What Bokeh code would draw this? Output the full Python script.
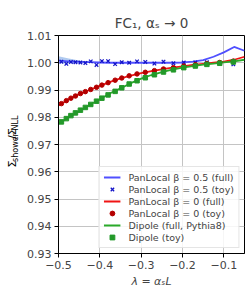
import math
from bokeh.plotting import figure
from bokeh.layouts import row
from bokeh.models import Legend, LegendItem, FixedTicker, NumeralTickFormatter, Range1d
from bokeh.core.properties import value
from bokeh.embed import file_html
from bokeh.resources import INLINE

# ---- data ----
lam_full = [-0.5, -0.475, -0.45, -0.425, -0.4, -0.375, -0.35, -0.325, -0.3, -0.275,
            -0.25, -0.225, -0.2, -0.175, -0.15, -0.125, -0.1, -0.075, -0.05]
pl05_full = [1.0008, 1.0005, 1.0003, 1.0002, 1.0001, 1.0000, 1.0000, 1.0000, 1.0000, 1.0000,
             1.0000, 1.0000, 1.0001, 1.0004, 1.0010, 1.0022, 1.0038, 1.0058, 1.0044]
pl05_lo = [0.9997, 0.9998, 0.9999, 1.0000, 1.0000, 0.9999, 0.9999, 0.9999, 0.9999, 0.9999,
           0.9999, 0.9999, 1.0000, 1.0003, 1.0009, 1.0021, 1.0037, 1.0057, 1.0043]
pl05_hi = [1.0024, 1.0016, 1.0008, 1.0004, 1.0002, 1.0001, 1.0001, 1.0001, 1.0001, 1.0001,
           1.0001, 1.0001, 1.0002, 1.0005, 1.0011, 1.0023, 1.0039, 1.0059, 1.0045]
pl0_full = [0.9843, 0.9866, 0.9885, 0.9900, 0.9915, 0.9930, 0.9943, 0.9953, 0.9962, 0.9969,
            0.9976, 0.9982, 0.9987, 0.9992, 0.9996, 1.0000, 1.0004, 1.0011, 1.0022]
dip_full = [0.9776, 0.9800, 0.9822, 0.9845, 0.9866, 0.9888, 0.9906, 0.9925, 0.9942, 0.9955,
            0.9966, 0.9975, 0.9982, 0.9988, 0.9993, 0.9997, 1.0001, 1.0005, 1.0011]

lam_toy = [-0.493, -0.481, -0.470, -0.459, -0.447, -0.435, -0.422, -0.408, -0.395, -0.380,
           -0.363, -0.347, -0.329, -0.310, -0.290, -0.268, -0.246, -0.222, -0.197, -0.169,
           -0.141, -0.110, -0.077]
pl05_toy = [1.0004, 0.9996, 1.0003, 1.0002, 1.0001, 0.9999, 1.0005, 0.9992, 1.0006, 1.0006,
            0.9995, 1.0002, 1.0000, 1.0005, 1.0003, 0.9997, 1.0004, 0.9998, 1.0001, 1.0001,
            1.0002, 0.9999, 0.9994]
pl0_toy = [0.9850, 0.9861, 0.9870, 0.9878, 0.9887, 0.9894, 0.9902, 0.9910, 0.9918, 0.9927,
           0.9936, 0.9944, 0.9952, 0.9959, 0.9965, 0.9971, 0.9977, 0.9982, 0.9988, 0.9993,
           0.9997, 1.0001, 1.0006]
dip_toy = [0.9783, 0.9795, 0.9806, 0.9816, 0.9826, 0.9836, 0.9847, 0.9859, 0.9870, 0.9882,
           0.9895, 0.9908, 0.9922, 0.9934, 0.9945, 0.9956, 0.9966, 0.9974, 0.9982, 0.9988,
           0.9994, 0.9998, 1.0003]

x_ticks = [-0.5, -0.4, -0.3, -0.2, -0.1]
x_tick_labels = ["\u22120.5", "\u22120.4", "\u22120.3", "\u22120.2", "\u22120.1"]
y_ticks = [0.93, 0.94, 0.95, 0.96, 0.97, 0.98, 0.99, 1.00, 1.01]

labels = ["PanLocal \u03b2 = 0.5 (full)", "PanLocal \u03b2 = 0.5 (toy)",
          "PanLocal \u03b2 = 0 (full)", "PanLocal \u03b2 = 0 (toy)",
          "Dipole (full, Pythia8)", "Dipole (toy)"]

# y-axis label pieces: (text, font size, subscript?)
ylab_parts = [("\u03a3", "11px", False), ("shower", "8px", True),
              ("/\u03a3", "11px", False), ("NLL", "8px", True)]

FONT = "DejaVu Sans"
W, H = 249, 291
LW = 24  # width of the strip holding the y-axis label

# ---- strip with the composed y-axis label ----
lab = figure(width=LW, height=H, output_backend="svg", toolbar_location=None,
             x_range=Range1d(0, LW), y_range=Range1d(0, H),
             min_border=0, min_border_left=0, min_border_right=0,
             min_border_top=0, min_border_bottom=0)
lab.axis.visible = False
lab.grid.visible = False
lab.outline_line_color = None
lab.background_fill_color = None
lab.border_fill_color = None

y_center = H - 144
# approximate advance widths (em) in DejaVu Sans, with a little slack
adv = {"\u03a3": 0.68, "shower": 3.85, "/\u03a3": 1.02, "NLL": 1.9}
total = sum(adv[t] * float(fs[:-2]) for t, fs, _ in ylab_parts)
ypos = y_center - total / 2
for txt, fs, sub in ylab_parts:
    lab.text(x=[15 if sub else 12], y=[ypos], text=[txt], angle=math.pi / 2,
             text_font=value(FONT), text_font_size=fs, text_align="left",
             text_baseline="middle", text_color="black")
    ypos += adv[txt] * float(fs[:-2])

# ---- main plot ----
p = figure(width=W - LW, height=H, output_backend="svg", toolbar_location=None,
           x_range=Range1d(-0.5, -0.05), y_range=Range1d(0.93, 1.01),
           min_border_left=57 - LW, min_border_right=5, min_border_top=35, min_border_bottom=38)

p.title.text = "FC\u2081, \u03b1\u209b \u2192 0"
p.title.align = "center"
p.title.text_font = FONT
p.title.text_font_size = "13.5px"
p.title.text_font_style = "normal"

p.outline_line_color = "black"
p.outline_line_width = 1

for ax in (p.xaxis[0], p.yaxis[0]):
    ax.major_label_text_font = FONT
    ax.major_label_text_font_size = "11px"
    ax.major_tick_in = 0
    ax.major_tick_out = 4
    ax.minor_tick_out = 0
    ax.minor_tick_in = 0
    ax.axis_line_color = "black"
    ax.major_label_standoff = 3

p.xaxis.ticker = FixedTicker(ticks=x_ticks)
p.xaxis.major_label_overrides = dict(zip(x_ticks, x_tick_labels))
p.xaxis.axis_label = "\u03bb = \u03b1\u209bL"
p.xaxis.axis_label_text_font = FONT
p.xaxis.axis_label_text_font_size = "11px"
p.xaxis.axis_label_text_font_style = "italic"
p.xaxis.axis_label_standoff = 3

p.yaxis.ticker = FixedTicker(ticks=y_ticks)
p.yaxis.formatter = NumeralTickFormatter(format="0.00")

p.xgrid.ticker = FixedTicker(ticks=x_ticks)
p.ygrid.ticker = FixedTicker(ticks=y_ticks)
p.grid.grid_line_color = "#c4c4c4"
p.grid.grid_line_width = 1

blue_line = "#5050ff"
blue_mark = "#1515c8"
red_line = "#f01414"
red_mark = "#b40000"
green_line = "#2aaa2a"
green_mark = "#23992a"

p.varea(x=lam_full, y1=pl05_lo, y2=pl05_hi, fill_color="#8fb4e8", fill_alpha=0.7)
r1 = p.line(lam_full, pl05_full, line_color=blue_line, line_width=1.8)
r3 = p.line(lam_full, pl0_full, line_color=red_line, line_width=1.8)
r5 = p.line(lam_full, dip_full, line_color=green_line, line_width=1.8)
r2 = p.scatter(lam_toy, pl05_toy, marker="x", size=5, line_color=blue_mark, line_width=1.3)
r4 = p.scatter(lam_toy, pl0_toy, marker="circle", size=4.5, fill_color=red_mark, line_color=red_mark)
r6 = p.scatter(lam_toy, dip_toy, marker="square", size=4.5, fill_color=green_mark, line_color=green_mark)

legend = Legend(items=[LegendItem(label=l, renderers=[r]) for l, r in
                       zip(labels, [r1, r2, r3, r4, r5, r6])],
                location="bottom_right")
legend.label_text_font = FONT
legend.label_text_font_size = "9.5px"
legend.label_height = 12
legend.glyph_height = 12
legend.glyph_width = 17
legend.label_standoff = 8
legend.spacing = 0
legend.padding = 4
legend.margin = 5
legend.border_line_color = "#cccccc"
legend.border_line_width = 1
legend.background_fill_color = "white"
legend.background_fill_alpha = 0.85
p.add_layout(legend, "center")

layout = row(lab, p, spacing=0)
open("out.html", "w").write(file_html(layout, INLINE))
